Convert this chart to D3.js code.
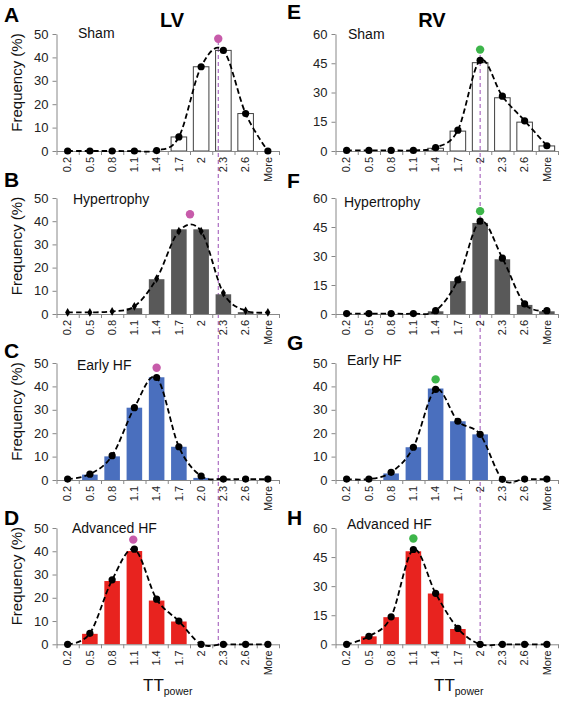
<!DOCTYPE html>
<html><head><meta charset="utf-8">
<script src="https://cdn.jsdelivr.net/npm/d3@7"></script>
<style>body{margin:0;background:#fff} svg{display:block;font-family:"Liberation Sans",Arial,sans-serif}</style>
</head><body><svg id="c" width="562" height="702"></svg>
<script>
// ---------- data ----------
const categories = ["0.2","0.5","0.8","1.1","1.4","1.7","2","2.3","2.6","More"];
const categoriesLvEarly = ["0.2","0.5","0.8","1.1","1.4","1.7","2.0","2.3","2.6","More"];
const groups = ["Sham","Hypertrophy","Early HF","Advanced HF"];

const lvShamBars  = [0,0,0,0,0,6,36,43,16,0];
const lvShamFit   = [0,0,0,0,0.2,6,36,43,16,0];
const lvHyperBars = [0,0,0,2.5,15,36.5,36.5,8.5,0.8,0];
const lvHyperFit  = [0.7,0.7,1.1,3.3,15.2,35.7,35.7,9,1.4,0.7];
const lvEarlyBars = [0,2.3,10.1,30.9,43.9,14.2,0.9,0,0,0];
const lvEarlyFit  = [0.4,2.5,10.4,30.9,43.8,14.2,1.7,0.4,0.4,0.4];
const lvAdvBars   = [0,4.5,27.2,40.1,18.8,9.8,0,0,0,0];
const lvAdvFit    = [0,4.7,27.7,40.9,19.4,10,0,0,0,0];

const rvShamBars  = [0,0,0,0,1.4,10.2,45.3,27.3,14.8,2.6];
const rvShamFit   = [0.3,0.3,0.3,0.3,1.7,10.7,46.5,28.1,15.5,2.7];
const rvHyperBars = [0,0,0,0,1.4,17,47.1,28.3,4.7,1.4];
const rvHyperFit  = [0.2,0.2,0.2,0.2,1.7,17.6,48,28.9,5.2,1.7];
const rvEarlyBars = [0,0,2.8,14,39.1,25.1,19.5,0,0,0];
const rvEarlyFit  = [0.4,0.4,3.3,14,38.7,25.1,19.5,0.3,0.4,0.4];
const rvAdvBars   = [0,4.1,14,48,26.2,7.9,0,0,0,0];
const rvAdvFit    = [0,4.1,14.2,48.9,26.3,8.2,0,0,0,0];

// peak markers: position in category-index units, height in %
const lvPeakPos = [6.77,5.5,4.0,2.95];
const lvPeakVal = [48,43,48,45];
const rvPeakPos = [6,6,4,3];
const rvPeakVal = [52,53.2,43,54.6];

const ticks50 = [0,10,20,30,40,50];
const ticks60 = [0,15,30,45,60];

// ---------- layout ----------
const svg = d3.select("#c");
const rowTop  = [34,198,363,528];
const rowZero = [151,314,480,644.3];
const colX = [[56.5,279],[335.5,558]];
const fills = ["none","#595959","#4a6fbe","#e8231f"];
const strokes = ["#404040","none","none","none"];
const letters = [["A","B","C","D"],["E","F","G","H"]];
const letterY = [[22,187,358,525],[19,188,350,525]];
const titleXY = [[[78,38],[73,204],[77,370],[72,533]],[[348,39],[344,207],[347,365],[347,529]]];

const lv = {bars:[lvShamBars,lvHyperBars,lvEarlyBars,lvAdvBars], fit:[lvShamFit,lvHyperFit,lvEarlyFit,lvAdvFit],
  pos:lvPeakPos, val:lvPeakVal, color:"#c75baa", ticks:[ticks50,ticks50,ticks50,ticks50]};
const rv = {bars:[rvShamBars,rvHyperBars,rvEarlyBars,rvAdvBars], fit:[rvShamFit,rvHyperFit,rvEarlyFit,rvAdvFit],
  pos:rvPeakPos, val:rvPeakVal, color:"#3db54a", ticks:[ticks60,ticks60,ticks50,ticks60]};

const axisColor = "#888";

function idxScale(c){
  return d3.scaleLinear().domain([0,categories.length-1])
    .range([c[0] + (c[1]-c[0])/categories.length/2, c[1] - (c[1]-c[0])/categories.length/2]);
}

// reference dashed lines (behind bars)
[[lv,0,41],[rv,1,55]].forEach(([side,ci,y0])=>{
  const xi = idxScale(colX[ci]);
  svg.append("line").attr("x1",xi(side.pos[0])).attr("x2",xi(side.pos[0]))
    .attr("y1",y0).attr("y2",rowZero[3])
    .attr("stroke","#9b4fb5").attr("stroke-width",1).attr("stroke-dasharray","4,3");
});

[lv,rv].forEach((side,ci)=>{
  const xr = colX[ci];
  const xi = idxScale(xr);
  for(let r=0;r<4;r++){
    const labels = (ci===0 && r===2) ? categoriesLvEarly : categories;
    const x = d3.scaleBand().domain(labels).range(xr).paddingInner(0.3).paddingOuter(0.15);
    const tks = side.ticks[r];
    const y = d3.scaleLinear().domain([0,d3.max(tks)]).range([rowZero[r],rowTop[r]]);
    const g = svg.append("g");

    // bars
    g.selectAll("rect.bar").data(side.bars[r]).join("rect")
      .attr("x",(d,i)=>x(labels[i])).attr("width",x.bandwidth())
      .attr("y",d=>y(d)).attr("height",d=>y(0)-y(d))
      .attr("fill",fills[r]).attr("stroke",strokes[r]).attr("stroke-width",1);

    // y axis
    const ya = g.append("g").attr("transform",`translate(${xr[0]},0)`)
      .call(d3.axisLeft(y).tickValues(tks).tickSize(4).tickSizeOuter(0).tickPadding(4));
    ya.select(".domain").attr("stroke",axisColor);
    ya.selectAll(".tick line").attr("stroke",axisColor);
    ya.selectAll("text").attr("font-size",13).attr("fill","#222").attr("font-family","Liberation Sans, Arial, sans-serif");

    // x axis boundary ticks
    const xb = d3.scaleLinear().domain([0,labels.length]).range(xr);
    const xa = g.append("g").attr("transform",`translate(0,${rowZero[r]})`)
      .call(d3.axisBottom(xb).tickValues(d3.range(labels.length+1)).tickFormat("").tickSize(4).tickSizeOuter(0));
    xa.select(".domain").attr("stroke",axisColor);
    xa.selectAll(".tick line").attr("stroke",axisColor);
    // x labels
    const xl = g.append("g").attr("transform",`translate(0,${rowZero[r]})`)
      .call(d3.axisBottom(x).tickSize(0).tickPadding(0));
    xl.select(".domain").remove();
    xl.selectAll("text").attr("font-size",11).attr("fill","#222")
      .attr("font-family","Liberation Sans, Arial, sans-serif")
      .attr("text-anchor","end").attr("dy","0.35em")
      .attr("transform","translate(0,6) rotate(-90)").attr("x",0).attr("y",0);

    // fitted dashed curve
    const line = d3.line().x((d,i)=>xi(i)).y(d=>y(d)).curve(d3.curveCardinal.tension(0));
    g.append("path").datum(side.fit[r]).attr("d",line)
      .attr("fill","none").attr("stroke","#000").attr("stroke-width",1.8).attr("stroke-dasharray","5.5,3");

    // markers
    if(ci===0 && r===1){
      g.selectAll("path.mk").data(side.fit[r]).join("path")
        .attr("d",d3.symbol(d3.symbolDiamond,22))
        .attr("transform",(d,i)=>`translate(${xi(i)},${y(d)})`).attr("fill","#000");
    } else {
      g.selectAll("circle.mk").data(side.fit[r]).join("circle")
        .attr("cx",(d,i)=>xi(i)).attr("cy",d=>y(d)).attr("r",3.6).attr("fill","#000");
    }

    // peak dot
    g.append("circle").attr("cx",xi(side.pos[r])).attr("cy",y(side.val[r])).attr("r",4.2).attr("fill",side.color);

    // group title
    g.append("text").attr("x",titleXY[ci][r][0]).attr("y",titleXY[ci][r][1])
      .attr("font-size",14).attr("fill","#111").text(groups[r]);

    // panel letter
    g.append("text").attr("x",ci===0?4:287).attr("y",letterY[ci][r])
      .attr("font-size",21).attr("font-weight","bold").attr("fill","#000").text(letters[ci][r]);

    // y title (left column only)
    if(ci===0){
      const cy = (rowTop[r]+rowZero[r])/2 - 10;
      g.append("text").attr("transform",`translate(22,${cy}) rotate(-90)`)
        .attr("text-anchor","middle").attr("font-size",15).attr("fill","#111").text("Frequency (%)");
    }
  }
});

// column titles
svg.append("text").attr("x",172).attr("y",27).attr("text-anchor","middle")
  .attr("font-size",20).attr("font-weight","bold").text("LV");
svg.append("text").attr("x",432).attr("y",27).attr("text-anchor","middle")
  .attr("font-size",20).attr("font-weight","bold").text("RV");

// x titles
[[143,691],[434,691]].forEach(([x0,yb])=>{
  const t = svg.append("text").attr("x",x0).attr("y",yb).attr("font-size",17).attr("fill","#111");
  t.append("tspan").text("TT");
  t.append("tspan").attr("dy",4).attr("font-size",10.5).text("power");
});
</script></body></html>
